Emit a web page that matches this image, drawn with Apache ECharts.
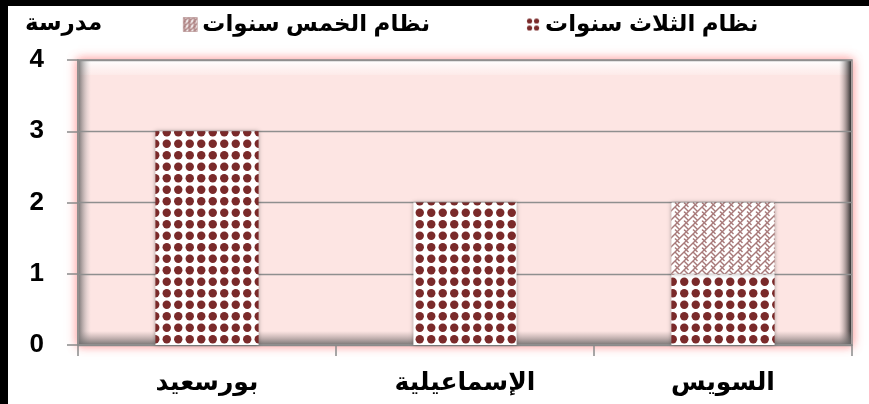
<!DOCTYPE html>
<html><head><meta charset="utf-8">
<script src="https://cdn.jsdelivr.net/npm/echarts@6/dist/echarts.min.js"></script>
<style>html,body{margin:0;padding:0;background:#fff}#c{width:869px;height:404px}</style>
</head><body><div id="c"></div>
<script>
var categories = ['بورسعيد', 'الإسماعيلية', 'السويس'];
var threeYear = [3, 2, 1];
var fiveYear = [0, 0, 1];
var seriesNames = ['نظام الثلاث سنوات', 'نظام الخمس سنوات'];
var yTicks = [0, 1, 2, 3, 4];
var yName = 'مدرسة';

var FONT = "Arial, 'Liberation Sans', 'DejaVu Sans', sans-serif";

function dotPattern(step, r) {
  var s = step * 2;
  var c = document.createElement('canvas');
  c.width = s; c.height = s;
  var g = c.getContext('2d');
  g.fillStyle = '#ffffff'; g.fillRect(0, 0, s, s);
  g.fillStyle = '#7a2a2a';
  var h = step / 2;
  [[h,h],[h+step,h],[h,h+step],[h+step,h+step]].forEach(function(p){
    g.beginPath(); g.arc(p[0], p[1], r, 0, Math.PI*2); g.fill();
  });
  return c;
}
function weavePattern(sp) {
  var s = sp * 2;
  var c = document.createElement('canvas');
  c.width = s; c.height = s;
  var g = c.getContext('2d');
  g.fillStyle = '#ffffff'; g.fillRect(0, 0, s, s);
  g.strokeStyle = '#a87a7a'; g.lineWidth = 1.4;
  for (var k = -3; k <= 7; k++) {
    var cc = k * sp;
    g.beginPath(); g.moveTo(cc - 2 * s, 2 * s); g.lineTo(cc + 2 * s, -2 * s); g.stroke();
  }
  var hs = sp / 2;
  for (var i = -3; i <= 5; i++) {
    for (var j = -3; j <= 5; j++) {
      var bx = i * sp + (j % 2 ? hs : 0) + j * hs;
      var by = j * hs;
      g.beginPath(); g.moveTo(bx, by); g.lineTo(bx + hs, by + hs); g.stroke();
    }
  }
  return c;
}

var chart = echarts.init(document.getElementById('c'), null, {renderer: 'canvas'});
var G = {left: 78, right: 17, top: 60, bottom: 59};
var W = 869, H = 404;
var pw = W - G.left - G.right, ph = H - G.top - G.bottom;
var legendText = {fontFamily: FONT, fontSize: 23, fontWeight: 'bold', color: '#000'};

chart.setOption({
  animation: false,
  backgroundColor: '#ffffff',
  textStyle: {fontFamily: FONT},
  title: {
    text: yName, left: 20, top: 7,
    textStyle: {fontFamily: FONT, fontSize: 23, fontWeight: 'bold', color: '#000'}
  },
  legend: {
    data: [
      {name: seriesNames[1], icon: 'rect', itemStyle: {color: {image: weavePattern(5), repeat: 'repeat'}, borderColor: '#b08a8a', borderWidth: 0.6}},
      {name: seriesNames[0], icon: 'rect', itemStyle: {color: {image: dotPattern(7, 2.6), repeat: 'repeat'}}}
    ],
    top: 8, left: 178,
    itemGap: 96, itemWidth: 14, itemHeight: 14,
    textStyle: legendText
  },
  grid: {left: G.left, right: G.right, top: G.top, bottom: G.bottom},
  graphic: [
    {type: 'rect', z: -10, shape: {x: G.left, y: G.top, width: pw, height: ph},
      style: {fill: '#fde5e3', stroke: '#8a8a8a', lineWidth: 1.5, shadowBlur: 10, shadowColor: 'rgba(255,110,110,0.75)'}},
    {type: 'rect', z: -9, shape: {x: G.left + 1, y: G.top + 1, width: pw - 2, height: 14},
      style: {fill: {type: 'linear', x: 0, y: 0, x2: 0, y2: 1, colorStops: [{offset: 0, color: 'rgba(255,255,255,1)'}, {offset: 1, color: 'rgba(255,255,255,0.2)'}]}}},
    {type: 'rect', z: -9, shape: {x: G.left + 1, y: G.top + 1, width: 12, height: ph - 2},
      style: {fill: {type: 'linear', x: 0, y: 0, x2: 1, y2: 0, colorStops: [{offset: 0, color: 'rgba(110,110,110,0.85)'}, {offset: 1, color: 'rgba(200,200,200,0)'}]}}},
    {type: 'rect', z: -9, shape: {x: G.left + pw - 13, y: G.top + 1, width: 12, height: ph - 2},
      style: {fill: {type: 'linear', x: 0, y: 0, x2: 1, y2: 0, colorStops: [{offset: 0, color: 'rgba(160,150,150,0)'}, {offset: 1, color: 'rgba(40,40,40,0.95)'}]}}},
    {type: 'rect', z: -9, shape: {x: G.left + 1, y: G.top + ph - 14, width: pw - 2, height: 13},
      style: {fill: {type: 'linear', x: 0, y: 0, x2: 0, y2: 1, colorStops: [{offset: 0, color: 'rgba(150,140,140,0)'}, {offset: 1, color: 'rgba(110,110,110,0.85)'}]}}},
    {type: 'rect', left: 0, top: 0, z: 100, shape: {x: 0, y: 0, width: W, height: 6}, style: {fill: '#000'}},
    {type: 'rect', left: 0, top: 0, z: 100, shape: {x: 0, y: 0, width: 8, height: H}, style: {fill: '#000'}}
  ],
  xAxis: {
    type: 'category', data: categories,
    axisLine: {show: true, lineStyle: {color: '#8a8a8a', width: 1.5}},
    axisTick: {show: true, length: 11, lineStyle: {color: '#8a8a8a', width: 1.5}},
    axisLabel: {fontFamily: FONT, fontSize: 25, fontWeight: 'bold', color: '#000', margin: 26}
  },
  yAxis: {
    type: 'value', min: yTicks[0], max: yTicks[yTicks.length - 1], interval: 1,
    axisLine: {show: true, lineStyle: {color: '#8a8a8a', width: 1.5}},
    axisTick: {show: true, length: 11, lineStyle: {color: '#8a8a8a', width: 1.5}},
    splitLine: {show: true, lineStyle: {color: '#8f8f8f', width: 1.3}},
    axisLabel: {fontFamily: FONT, fontSize: 26, fontWeight: 'bold', color: '#000', margin: 34}
  },
  series: [
    {name: seriesNames[0], type: 'bar', stack: 's', data: threeYear, barWidth: '40%',
      itemStyle: {color: {image: dotPattern(11.5, 4.2), repeat: 'repeat'}, shadowBlur: 4, shadowColor: 'rgba(0,0,0,0.35)'}},
    {name: seriesNames[1], type: 'bar', stack: 's', data: fiveYear, barWidth: '40%',
      itemStyle: {color: {image: weavePattern(9), repeat: 'repeat'}, shadowBlur: 4, shadowColor: 'rgba(0,0,0,0.35)'}}
  ]
});
</script></body></html>
